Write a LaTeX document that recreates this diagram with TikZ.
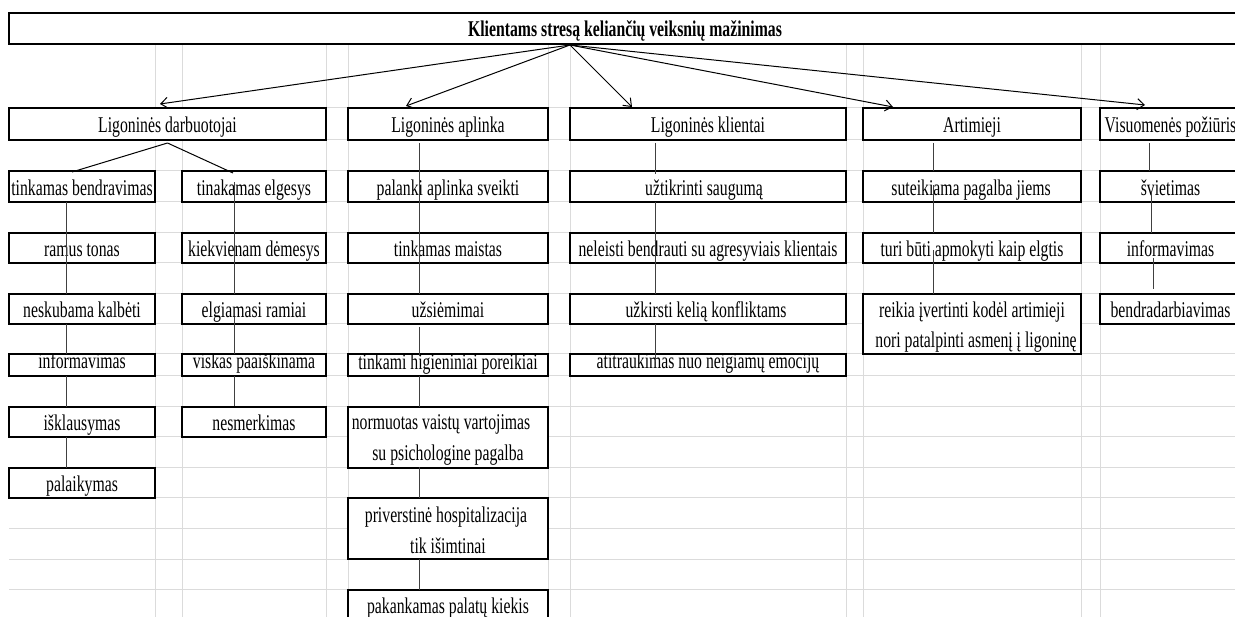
\documentclass[tikz,border=0pt]{standalone}
\usepackage{fontspec}
\setmainfont{Liberation Serif}[FakeStretch=0.7]
\usetikzlibrary{arrows.meta,calc}
\newcommand\fs{\fontsize{22.5}{30}\selectfont}
\begin{document}
\begin{tikzpicture}[x=1pt,y=-1pt,
  grid/.style={draw=black!14, line width=1pt},
  box/.style={draw=black, line width=2pt, fill=white, inner sep=0pt, outer sep=0pt, rectangle},
  bigbox/.style={box, line width=2.8pt},
  lbl/.style={anchor=base, inner sep=0pt, font=\fs},
  conn/.style={draw=black!75, line width=1pt},
  fork/.style={draw=black, line width=1pt},
  arr/.style={draw=black, line width=1pt, -{Straight Barb[length=7pt,width=11pt]}},
  wA/.style={minimum width=146pt}, wC/.style={minimum width=144pt},
  wE/.style={minimum width=200pt}, wG/.style={minimum width=276pt},
  wI/.style={minimum width=218pt}, wK/.style={minimum width=141pt},
  hcat/.style={minimum height=32pt}, hrow/.style={minimum height=30pt},
  hshort/.style={minimum height=22pt}, hdbl/.style={minimum height=61pt}]
\useasboundingbox (0,0) rectangle (1235,617);
\clip (0,0) rectangle (1235,617);
% spreadsheet grid
\foreach \x in {155,182,326,348,548,570,846,863,1081,1100} \draw[grid] (\x,44) -- (\x,617);
\foreach \y in {108,140,171,202,233,263,294,324,354,376,407,437,468,498,528,559,589} \draw[grid] (9,\y) -- (1235,\y);
% title and categories
\node[bigbox, minimum width=1232pt, minimum height=31pt] (title) at (625,28.5) {};
\node[bigbox, minimum width=317pt, hcat] (cat1) at (167.5,124) {};
\node[bigbox, wE, hcat] (cat2) at (448,124) {};
\node[bigbox, wG, hcat] (cat3) at (708,124) {};
\node[bigbox, wI, hcat] (cat4) at (972,124) {};
\node[bigbox, wK, hcat] (cat5) at (1170.5,124) {};
% column A
\node[box,wA,minimum height=31pt] (a1) at (82,186.5) {};
\node[box,wA,hrow] (a2) at (82,248) {};
\node[box,wA,hrow] (a3) at (82,309) {};
\node[box,wA,hshort] (a4) at (82,365) {};
\node[box,wA,hrow] (a5) at (82,422) {};
\node[box,wA,hrow] (a6) at (82,483) {};
% column C
\node[box,wC,minimum height=31pt] (c1) at (254,186.5) {};
\node[box,wC,hrow] (c2) at (254,248) {};
\node[box,wC,hrow] (c3) at (254,309) {};
\node[box,wC,hshort] (c4) at (254,365) {};
\node[box,wC,hrow] (c5) at (254,422) {};
% column E
\node[box,wE,minimum height=31pt] (e1) at (448,186.5) {};
\node[box,wE,hrow] (e2) at (448,248) {};
\node[box,wE,hrow] (e3) at (448,309) {};
\node[box,wE,hshort] (e4) at (448,365) {};
\node[box,wE,hdbl] (e5) at (448,437.5) {};
\node[box,wE,hdbl] (e6) at (448,528.5) {};
\node[box,wE,minimum height=50pt] (e7) at (448,615) {};
% column G
\node[box,wG,minimum height=31pt] (g1) at (708,186.5) {};
\node[box,wG,hrow] (g2) at (708,248) {};
\node[box,wG,hrow] (g3) at (708,309) {};
\node[box,wG,hshort] (g4) at (708,365) {};
% column I
\node[box,wI,minimum height=31pt] (i1) at (972,186.5) {};
\node[box,wI,hrow] (i2) at (972,248) {};
\node[box,wI,minimum height=60pt] (i3) at (972,324) {};
% column K
\node[box,wK,minimum height=31pt] (k1) at (1170.5,186.5) {};
\node[box,wK,hrow] (k2) at (1170.5,248) {};
\node[box,wK,hrow] (k3) at (1170.5,309) {};
% texts
\node[lbl, font=\fs\bfseries] (t-title) at ($(title.south)+(0,-7)$) {Klientams stresą keliančių veiksnių mažinimas};
\node[lbl] (t-cat1) at ($(cat1.south)+(0,-7)$) {Ligoninės darbuotojai};
\node[lbl] (t-cat2) at ($(cat2.south)+(0,-7)$) {Ligoninės aplinka};
\node[lbl] (t-cat3) at ($(cat3.south)+(0,-7)$) {Ligoninės klientai};
\node[lbl] (t-cat4) at ($(cat4.south)+(0,-7)$) {Artimieji};
\node[lbl] (t-cat5) at ($(cat5.south)+(0,-7)$) {Visuomenės požiūris};
\node[lbl] (t-a1) at ($(a1.south)+(0,-6)$) {tinkamas bendravimas};
\node[lbl] (t-a2) at ($(a2.south)+(0,-6)$) {ramus tonas};
\node[lbl] (t-a3) at ($(a3.south)+(0,-6)$) {neskubama kalbėti};
\node[lbl] (t-a5) at ($(a5.south)+(0,-6)$) {išklausymas};
\node[lbl] (t-a6) at ($(a6.south)+(0,-6)$) {palaikymas};
\node[lbl] (t-c1) at ($(c1.south)+(0,-6)$) {tinakamas elgesys};
\node[lbl] (t-c2) at ($(c2.south)+(0,-6)$) {kiekvienam dėmesys};
\node[lbl] (t-c3) at ($(c3.south)+(0,-6)$) {elgiamasi ramiai};
\node[lbl] (t-c5) at ($(c5.south)+(0,-6)$) {nesmerkimas};
\node[lbl] (t-e1) at ($(e1.south)+(0,-6)$) {palanki aplinka sveikti};
\node[lbl] (t-e2) at ($(e2.south)+(0,-6)$) {tinkamas maistas};
\node[lbl] (t-e3) at ($(e3.south)+(0,-6)$) {užsiėmimai};
\node[lbl] (t-e5a) at ($(e5.north)+(-7,23)$) {normuotas vaistų vartojimas};
\node[lbl] (t-e5b) at ($(e5.north)+(0,54)$) {su psichologine pagalba};
\node[lbl] (t-e6a) at ($(e6.north)+(-2,24)$) {priverstinė hospitalizacija};
\node[lbl] (t-e6b) at ($(e6.north)+(0,55)$) {tik išimtinai};
\node[lbl] (t-e7) at ($(e7.north)+(0,23)$) {pakankamas palatų kiekis};
\node[lbl] (t-g1) at ($(g1.south)+(-4,-6)$) {užtikrinti saugumą};
\node[lbl] (t-g2) at ($(g2.south)+(0,-6)$) {neleisti bendrauti su agresyviais klientais};
\node[lbl] (t-g3) at ($(g3.south)+(-2,-6)$) {užkirsti kelią konfliktams};
\node[lbl] (t-i1) at ($(i1.south)+(-1,-6)$) {suteikiama pagalba jiems};
\node[lbl] (t-i2) at ($(i2.south)+(0,-6)$) {turi būti apmokyti kaip elgtis};
\node[lbl] (t-i3a) at ($(i3.north)+(0,24)$) {reikia įvertinti kodėl artimieji};
\node[lbl] (t-i3b) at ($(i3.north)+(4,54)$) {nori patalpinti asmenį į ligoninę};
\node[lbl] (t-k1) at ($(k1.south)+(0,-6)$) {švietimas};
\node[lbl] (t-k2) at ($(k2.south)+(0,-6)$) {informavimas};
\node[lbl] (t-k3) at ($(k3.south)+(0,-6)$) {bendradarbiavimas};
% texts in the short row, clipped at the cell top
\begin{scope}
\clip (9,356) rectangle (1100,376);
\node[lbl] (t-a4) at ($(a4.south)+(0,-7)$) {informavimas};
\node[lbl] (t-c4) at ($(c4.south)+(0,-7)$) {viskas paaiškinama};
\node[lbl] (t-e4) at ($(e4.south)+(0,-6)$) {tinkami higieniniai poreikiai};
\node[lbl] (t-g4) at ($(g4.south)+(0,-7)$) {atitraukimas nuo neigiamų emocijų};
\end{scope}
% column line positions
\coordinate (lA) at (66,0);
\coordinate (lC) at (234,0);
\coordinate (lE) at (419,0);
\coordinate (lG) at (655,0);
\coordinate (lI) at (933.5,0);
\coordinate (lK) at (1151,0);
% connectors column A
\draw[conn] (a1.south -| lA) -- (a3.north -| lA);
\draw[conn] (a3.south -| lA) -- (a4.north -| lA);
\draw[conn] (a4.south -| lA) -- (a5.north -| lA);
\draw[conn] (a5.south -| lA) -- (a6.north -| lA);
% column C
\draw[conn] ($(c1.center -| lC)+(0,-4)$) -- (c3.north -| lC);
\draw[conn] ($(c3.south -| lC)+(0,-7)$) -- (c4.north -| lC);
\draw[conn] (c4.south -| lC) -- ($(c5.north -| lC)+(0,-1)$);
% column E
\draw[conn] ($(cat2.south -| lE)+(0,3)$) -- (e3.north -| lE);
\draw[conn] ($(e3.south -| lE)+(0,3)$) -- ($(e4.north -| lE)+(0,2)$);
\draw[conn] (e4.south -| lE) -- (e5.north -| lE);
\draw[conn] ($(e5.south -| lE)+(0,-1)$) -- (e6.north -| lE);
\draw[conn] (e6.south -| lE) -- (e7.north -| lE);
% column G
\draw[conn] ($(cat3.south -| lG)+(0,3)$) -- ($(g1.north -| lG)+(0,3)$);
\draw[conn] (g1.south -| lG) -- (g3.north -| lG);
\draw[conn] (g3.south -| lG) -- ($(g4.north -| lG)+(0,8)$);
% column I
\draw[conn] ($(cat4.south -| lI)+(0,3)$) -- (i1.north -| lI);
\draw[conn] ($(i1.center -| lI)+(0,-1)$) -- (i2.north -| lI);
\draw[conn] ($(i2.center -| lI)+(0,2)$) -- (i3.north -| lI);
% column K
\draw[conn] ($(cat5.south -| lK)+(-2,3)$) -- ($(k1.north -| lK)+(-2,0)$);
\draw[conn] ($(k1.center -| lK)+(0,5)$) -- (k2.north -| lK);
\draw[conn] ($(k2.center -| lK)+(2,10)$) -- ($(k3.north -| lK)+(2,-5)$);
% fork under Ligonines darbuotojai
\coordinate (fk) at ($(cat1.south)+(0,3)$);
\draw[fork] (fk) -- ($(a1.north)+(-10,1)$);
\draw[fork] (fk) -- ($(c1.north)+(-21,2)$);
% arrows from the title
\coordinate (hub) at ($(title.south)+(-55,1)$);
\draw[arr] (hub) -- ($(cat1.north)+(-7.5,-4)$);
\draw[arr] (hub) -- ($(cat2.north)+(-42,-2)$);
\draw[arr] (hub) -- ($(cat3.north)+(-76,-1)$);
\draw[arr] (hub) -- ($(cat4.north)+(-79,-1)$);
\draw[arr] (hub) -- ($(cat5.north)+(-25.5,-3)$);
\end{tikzpicture}
\end{document}
